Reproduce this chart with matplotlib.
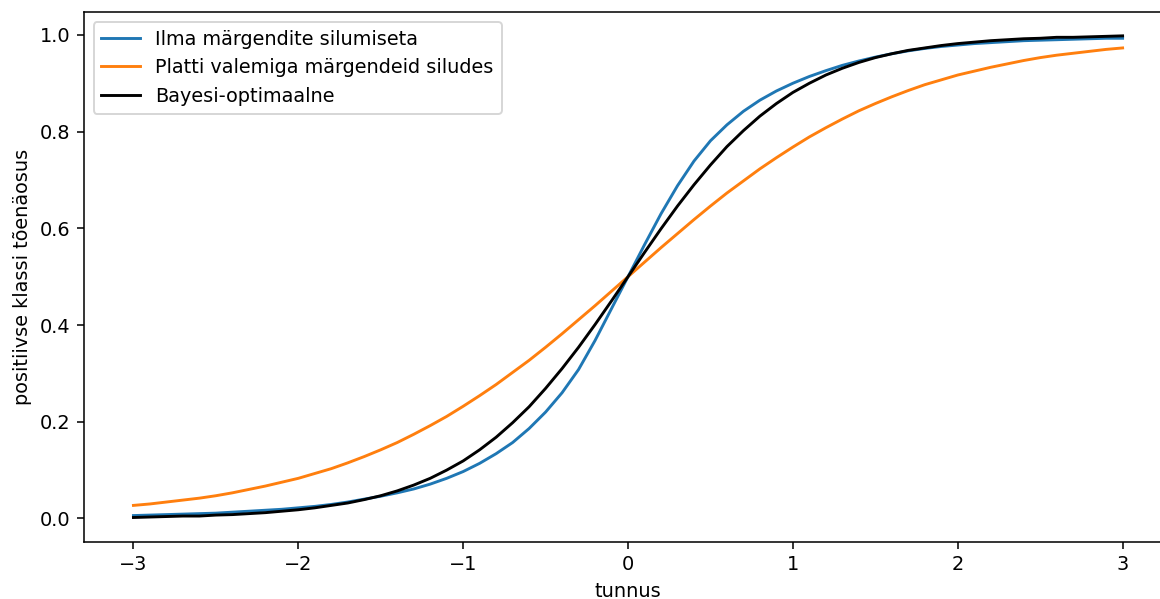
import matplotlib.pyplot as plt
import numpy as np

# x grid, -3 ... 3 in steps of 0.1
x = [round(-3 + 0.1 * i, 1) for i in range(61)]

ilma = [0.006, 0.007, 0.008, 0.009, 0.010, 0.011, 0.013, 0.015, 0.017, 0.019,
        0.022, 0.025, 0.029, 0.034, 0.040, 0.046, 0.053, 0.061, 0.071, 0.083,
        0.097, 0.114, 0.134, 0.157, 0.186, 0.220, 0.260, 0.308, 0.368, 0.434,
        0.500,
        0.566, 0.630, 0.688, 0.739, 0.781, 0.814, 0.842, 0.865, 0.884, 0.900,
        0.914, 0.926, 0.937, 0.946, 0.954, 0.961, 0.967, 0.972, 0.976, 0.979,
        0.982, 0.984, 0.986, 0.988, 0.989, 0.990, 0.991, 0.992, 0.993, 0.993]

platt = [0.027, 0.030, 0.034, 0.038, 0.042, 0.047, 0.053, 0.060, 0.067, 0.075,
         0.083, 0.093, 0.103, 0.115, 0.128, 0.142, 0.157, 0.174, 0.192, 0.211,
         0.232, 0.254, 0.277, 0.302, 0.327, 0.354, 0.382, 0.411, 0.440, 0.470,
         0.500,
         0.530, 0.560, 0.589, 0.618, 0.646, 0.673, 0.698, 0.723, 0.746, 0.768,
         0.789, 0.808, 0.826, 0.843, 0.858, 0.872, 0.885, 0.897, 0.907, 0.917,
         0.925, 0.933, 0.940, 0.947, 0.953, 0.958, 0.962, 0.966, 0.970, 0.973]

bayes = [0.002, 0.003, 0.004, 0.005, 0.005, 0.007, 0.008, 0.010, 0.012, 0.015,
         0.018, 0.022, 0.027, 0.032, 0.039, 0.047, 0.057, 0.069, 0.083, 0.100,
         0.119, 0.142, 0.168, 0.198, 0.231, 0.269, 0.310, 0.354, 0.401, 0.450,
         0.500,
         0.550, 0.599, 0.646, 0.690, 0.731, 0.769, 0.802, 0.832, 0.858, 0.881,
         0.900, 0.917, 0.931, 0.943, 0.953, 0.961, 0.968, 0.973, 0.978, 0.982,
         0.985, 0.988, 0.990, 0.992, 0.993, 0.995, 0.995, 0.996, 0.997, 0.998]

DPI = 139
fig = plt.figure(figsize=(1160 / DPI, 599 / DPI), dpi=DPI)
# the reference is cut off on the right, so the axes run past the edge
ax = fig.add_axes([0.0724, 0.0957, 0.938, 0.884])

ax.plot(x, ilma, color="#1f77b4", label="Ilma märgendite silumiseta")
ax.plot(x, platt, color="#ff7f0e", label="Platti valemiga märgendeid siludes")
ax.plot(x, bayes, color="k", label="Bayesi-optimaalne")

ax.set_xlim(-3.3, 3.3)
ax.set_ylim(-0.048, 1.047)
ax.set_xticks([-3, -2, -1, 0, 1, 2, 3])
ax.set_yticks([0.0, 0.2, 0.4, 0.6, 0.8, 1.0])
ax.spines["right"].set_visible(False)
ax.set_xlabel("tunnus")
ax.set_ylabel("positiivse klassi tõenäosus")
ax.legend(loc="upper left")

fig.savefig("out.png", dpi=DPI)
